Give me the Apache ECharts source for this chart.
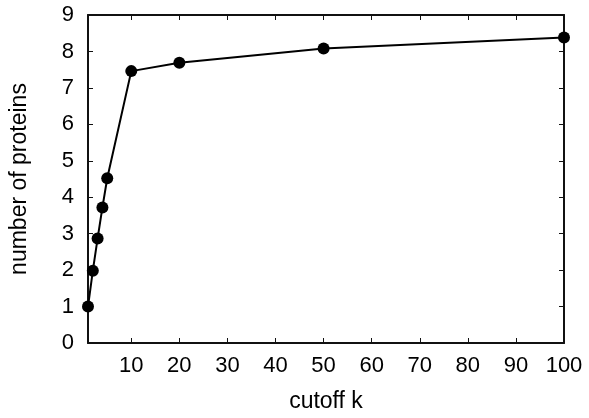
<!DOCTYPE html>
<html>
<head>
<meta charset="utf-8">
<script src="https://cdn.jsdelivr.net/npm/echarts@6/dist/echarts.min.js"></script>
<style>
  html, body { margin: 0; padding: 0; background: #fff; }
  #chart { width: 589px; height: 418px; }
</style>
</head>
<body>
<div id="chart"></div>
<script>
// cutoff k vs number of proteins
const cutoffK = [1, 2, 3, 4, 5, 10, 20, 50, 100];
const proteins = [1.0, 1.98, 2.87, 3.72, 4.52, 7.46, 7.69, 8.08, 8.38];
const xTicks = [10, 20, 30, 40, 50, 60, 70, 80, 90, 100];
const yTicks = [0, 1, 2, 3, 4, 5, 6, 7, 8, 9];

const chart = echarts.init(document.getElementById('chart'));
const fontFamily = '"Liberation Sans", Arial, Helvetica, sans-serif';
const textColor = '#000';

const lineStyle = { color: '#111', width: 2 };

const xBase = {
  type: 'value',
  min: 1,
  max: 100,
  axisLine: { show: true, onZero: false, lineStyle: lineStyle },
  splitLine: { show: false },
  axisTick: { show: true, inside: true, length: 5, customValues: xTicks.slice(0, -1), lineStyle: { color: '#111', width: 1 } },
};
const yBase = {
  type: 'value',
  min: 0,
  max: 9,
  interval: 1,
  axisLine: { show: true, onZero: false, lineStyle: lineStyle },
  splitLine: { show: false },
  axisTick: { show: true, inside: true, length: 5, lineStyle: { color: '#111', width: 1 } },
};

chart.setOption({
  backgroundColor: '#fff',
  animation: false,
  grid: { left: 87, right: 25, top: 15, bottom: 75 },
  xAxis: [
    Object.assign({}, xBase, {
      position: 'bottom',
      name: 'cutoff k',
      nameLocation: 'middle',
      nameGap: 47,
      nameTextStyle: { color: textColor, fontSize: 23, fontFamily: fontFamily },
      axisLabel: {
        show: true,
        customValues: xTicks,
        margin: 12,
        color: textColor,
        fontSize: 22,
        fontFamily: fontFamily,
      },
    }),
    Object.assign({}, xBase, {
      position: 'top',
      axisLabel: { show: false },
    }),
  ],
  yAxis: [
    Object.assign({}, yBase, {
      position: 'left',
      name: 'number of proteins',
      nameLocation: 'middle',
      nameGap: 57,
      nameTextStyle: { color: textColor, fontSize: 23, fontFamily: fontFamily },
      axisLabel: {
        show: true,
        margin: 14,
        color: textColor,
        fontSize: 22,
        fontFamily: fontFamily,
        customValues: yTicks,
      },
    }),
    Object.assign({}, yBase, {
      position: 'right',
      axisLabel: { show: false },
    }),
  ],
  series: [
    {
      type: 'line',
      xAxisIndex: 0,
      yAxisIndex: 0,
      data: cutoffK.map((k, i) => [k, proteins[i]]),
      symbol: 'circle',
      symbolSize: 12,
      itemStyle: { color: '#000' },
      lineStyle: { color: '#000', width: 2 },
      clip: false,
    },
  ],
});
</script>
</body>
</html>
